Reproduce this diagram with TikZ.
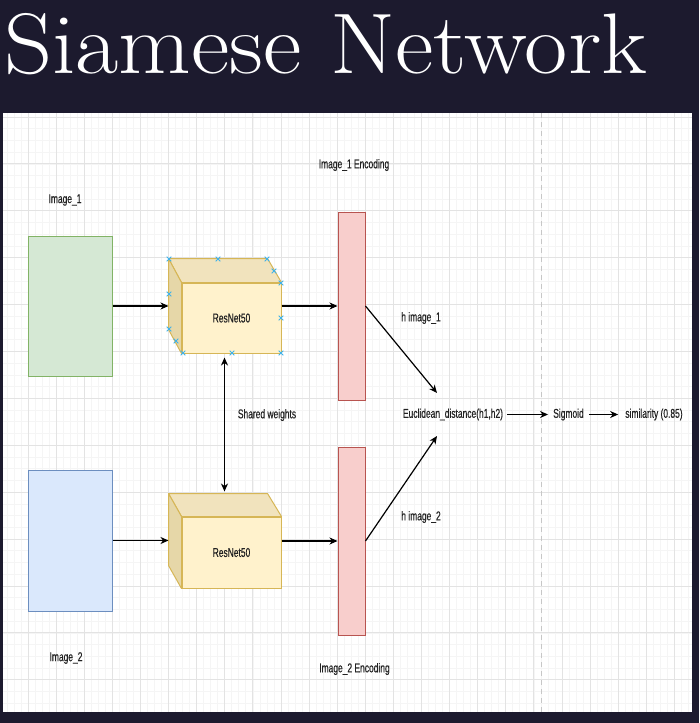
\documentclass[tikz,border=0pt]{standalone}
\usepackage{fontspec}
\newfontfamily\lbl[FakeStretch=0.66,FakeBold=0.4]{Liberation Sans}
\usetikzlibrary{arrows.meta}
\definecolor{bgdark}{HTML}{1C1A2E}
\definecolor{gridminor}{HTML}{F5F5F5}
\definecolor{gridmajor}{HTML}{E3E3E3}
\definecolor{greenfill}{HTML}{D5E8D4}
\definecolor{greenline}{HTML}{82B366}
\definecolor{bluefill}{HTML}{DAE8FC}
\definecolor{blueline}{HTML}{6C8EBF}
\definecolor{pinkfill}{HTML}{F8CECC}
\definecolor{pinkline}{HTML}{B85450}
\definecolor{cubefront}{HTML}{FFF2CC}
\definecolor{cubetop}{HTML}{F1E3BD}
\definecolor{cubeleft}{HTML}{E6D7A8}
\definecolor{cubeline}{HTML}{D6B656}
\definecolor{handlec}{HTML}{3FB2EA}
\definecolor{txt}{HTML}{222222}
\tikzset{
  lbltext/.style={font=\lbl\fontsize{12.8}{14}\selectfont, text=txt, inner sep=0pt},
  imgbox/.style={draw, line width=1pt, minimum width=84pt, minimum height=140pt, inner sep=0pt},
  encbox/.style={draw=pinkline, fill=pinkfill, line width=1pt, minimum width=27pt, minimum height=188pt, inner sep=0pt},
  cubeface/.style={draw=cubeline, fill=cubefront, line width=1pt, minimum width=99pt, minimum height=70pt, inner sep=0pt, font=\lbl\fontsize{12.8}{14}\selectfont, text=txt},
  cubeside/.style={draw=cubeline, line width=1pt, line join=round},
  arr/.style={line width=1.2pt, draw=black, -{Stealth[length=8pt,width=7pt,inset=2.5pt]}},
  arrboth/.style={line width=1.2pt, draw=black, {Stealth[length=8pt,width=7pt,inset=2.5pt]}-{Stealth[length=8pt,width=7pt,inset=2.5pt]}},
  handle/.style={draw=handlec, line width=0.9pt},
  minorline/.style={draw=gridminor, line width=0.8pt},
  majorline/.style={draw=gridmajor, line width=1pt},
}
\begin{document}
\begin{tikzpicture}[x=1pt,y=-1pt]
\useasboundingbox (0,0) rectangle (699,723);
\fill[bgdark] (0,0) rectangle (699,723);
\fill[white] (3,113) rectangle (692,712);
% grid
\begin{scope}
\clip (3,113) rectangle (692,712);
\foreach \k in {0,...,99} \draw[minorline] ({7.025*\k},113) -- ({7.025*\k},712);
\foreach \k in {-1,...,51} \draw[minorline] (3,{117+11.725*\k}) -- (692,{117+11.725*\k});
\foreach \k in {0,...,25} \draw[majorline] ({28.1*\k},113) -- ({28.1*\k},712);
\foreach \k in {0,...,12} \draw[majorline] (3,{117+46.9*\k}) -- (692,{117+46.9*\k});
\draw[draw=black!22, line width=1pt, dash pattern=on 5pt off 4pt] (541.5,113) -- (541.5,712);
\end{scope}
% title
\node[anchor=base west, inner sep=0pt, text=white, font=\fontsize{86}{86}\selectfont] (title) at (4,73) {\scalebox{1.094}[1]{Siamese Network}};
% image boxes
\node[imgbox, draw=greenline, fill=greenfill] (img1) at (70,306) {};
\node[imgbox, draw=blueline, fill=bluefill, minimum height=141pt] (img2) at (70,540.5) {};
\node[lbltext] (img1lbl) at (65,200) {Image\_1};
\node[lbltext] (img2lbl) at (66,658) {Image\_2};
% cube A
\node[cubeface] (cubeA) at (231.5,318) {ResNet50};
\draw[cubeside, fill=cubetop] (cubeA.north west) -- ++(-13,-24) -- ([shift={(-14,-24)}]cubeA.north east) -- (cubeA.north east) -- cycle;
\draw[cubeside, fill=cubeleft] (cubeA.north west) -- ++(-13,-24) -- ([shift={(-13,-24)}]cubeA.south west) -- (cubeA.south west) -- cycle;
\coordinate (cAback) at ([xshift=-13pt]cubeA.west);
% cube B
\node[cubeface, minimum height=71pt] (cubeB) at (231.5,552.5) {ResNet50};
\draw[cubeside, fill=cubetop] (cubeB.north west) -- ++(-13,-23) -- ([shift={(-14,-23)}]cubeB.north east) -- (cubeB.north east) -- cycle;
\draw[cubeside, fill=cubeleft] (cubeB.north west) -- ++(-13,-23) -- ([shift={(-13,-23)}]cubeB.south west) -- (cubeB.south west) -- cycle;
\coordinate (cBback) at ([xshift=-13pt]cubeB.west);
% selection handles on cube A
\foreach \p in {(169,259),(218,259),(267,259),(274,271),(281,283),(281,318),(281,353),(232,353),(183,353),(176,341),(169,329),(169,294)}
  \draw[handle] \p +(-2.3,-2.3) -- +(2.3,2.3) \p +(-2.3,2.3) -- +(2.3,-2.3);
% encodings
\node[encbox] (enc1) at (351.5,306) {};
\node[encbox] (enc2) at (351.5,541) {};
\node[lbltext] (enc1lbl) at (354,165) {Image\_1 Encoding};
\node[lbltext] (enc2lbl) at (354.5,669) {Image\_2 Encoding};
% connectors
\draw[arr] (img1.east) -- (img1.east -| cAback);
\draw[arr] (img2.east) -- (img2.east -| cBback);
\draw[arr] (enc1.west -| cubeA.east) -- (enc1.west);
\draw[arr] (enc2.west -| cubeB.east) -- (enc2.west);
\draw[arrboth] ([xshift=-7pt,yshift=-4pt]cubeA.south) -- ([xshift=-7pt,yshift=25pt]cubeB.north);
\node[lbltext] (shared) at (267,415) {Shared weights};
% distance
\node[lbltext, inner xsep=4pt] (euclid) at (453,414.5) {Euclidean\_distance(h1,h2)};
\coordinate (tip1) at (437,393);
\coordinate (tip2) at (437,436);
\draw[arr] (enc1.east) -- (tip1);
\draw[arr] (enc2.east) -- (tip2);
\node[lbltext] (h1) at (421,318) {h image\_1};
\node[lbltext] (h2) at (421,517) {h image\_2};
\node[lbltext, inner xsep=5pt] (sigmoid) at (568.5,414.5) {Sigmoid};
\node[lbltext, inner xsep=7pt] (simil) at (654,414.5) {similarity (0.85)};
\draw[arr] (euclid.east) -- (sigmoid.west);
\draw[arr] (sigmoid.east) -- (simil.west);
\end{tikzpicture}
\end{document}
